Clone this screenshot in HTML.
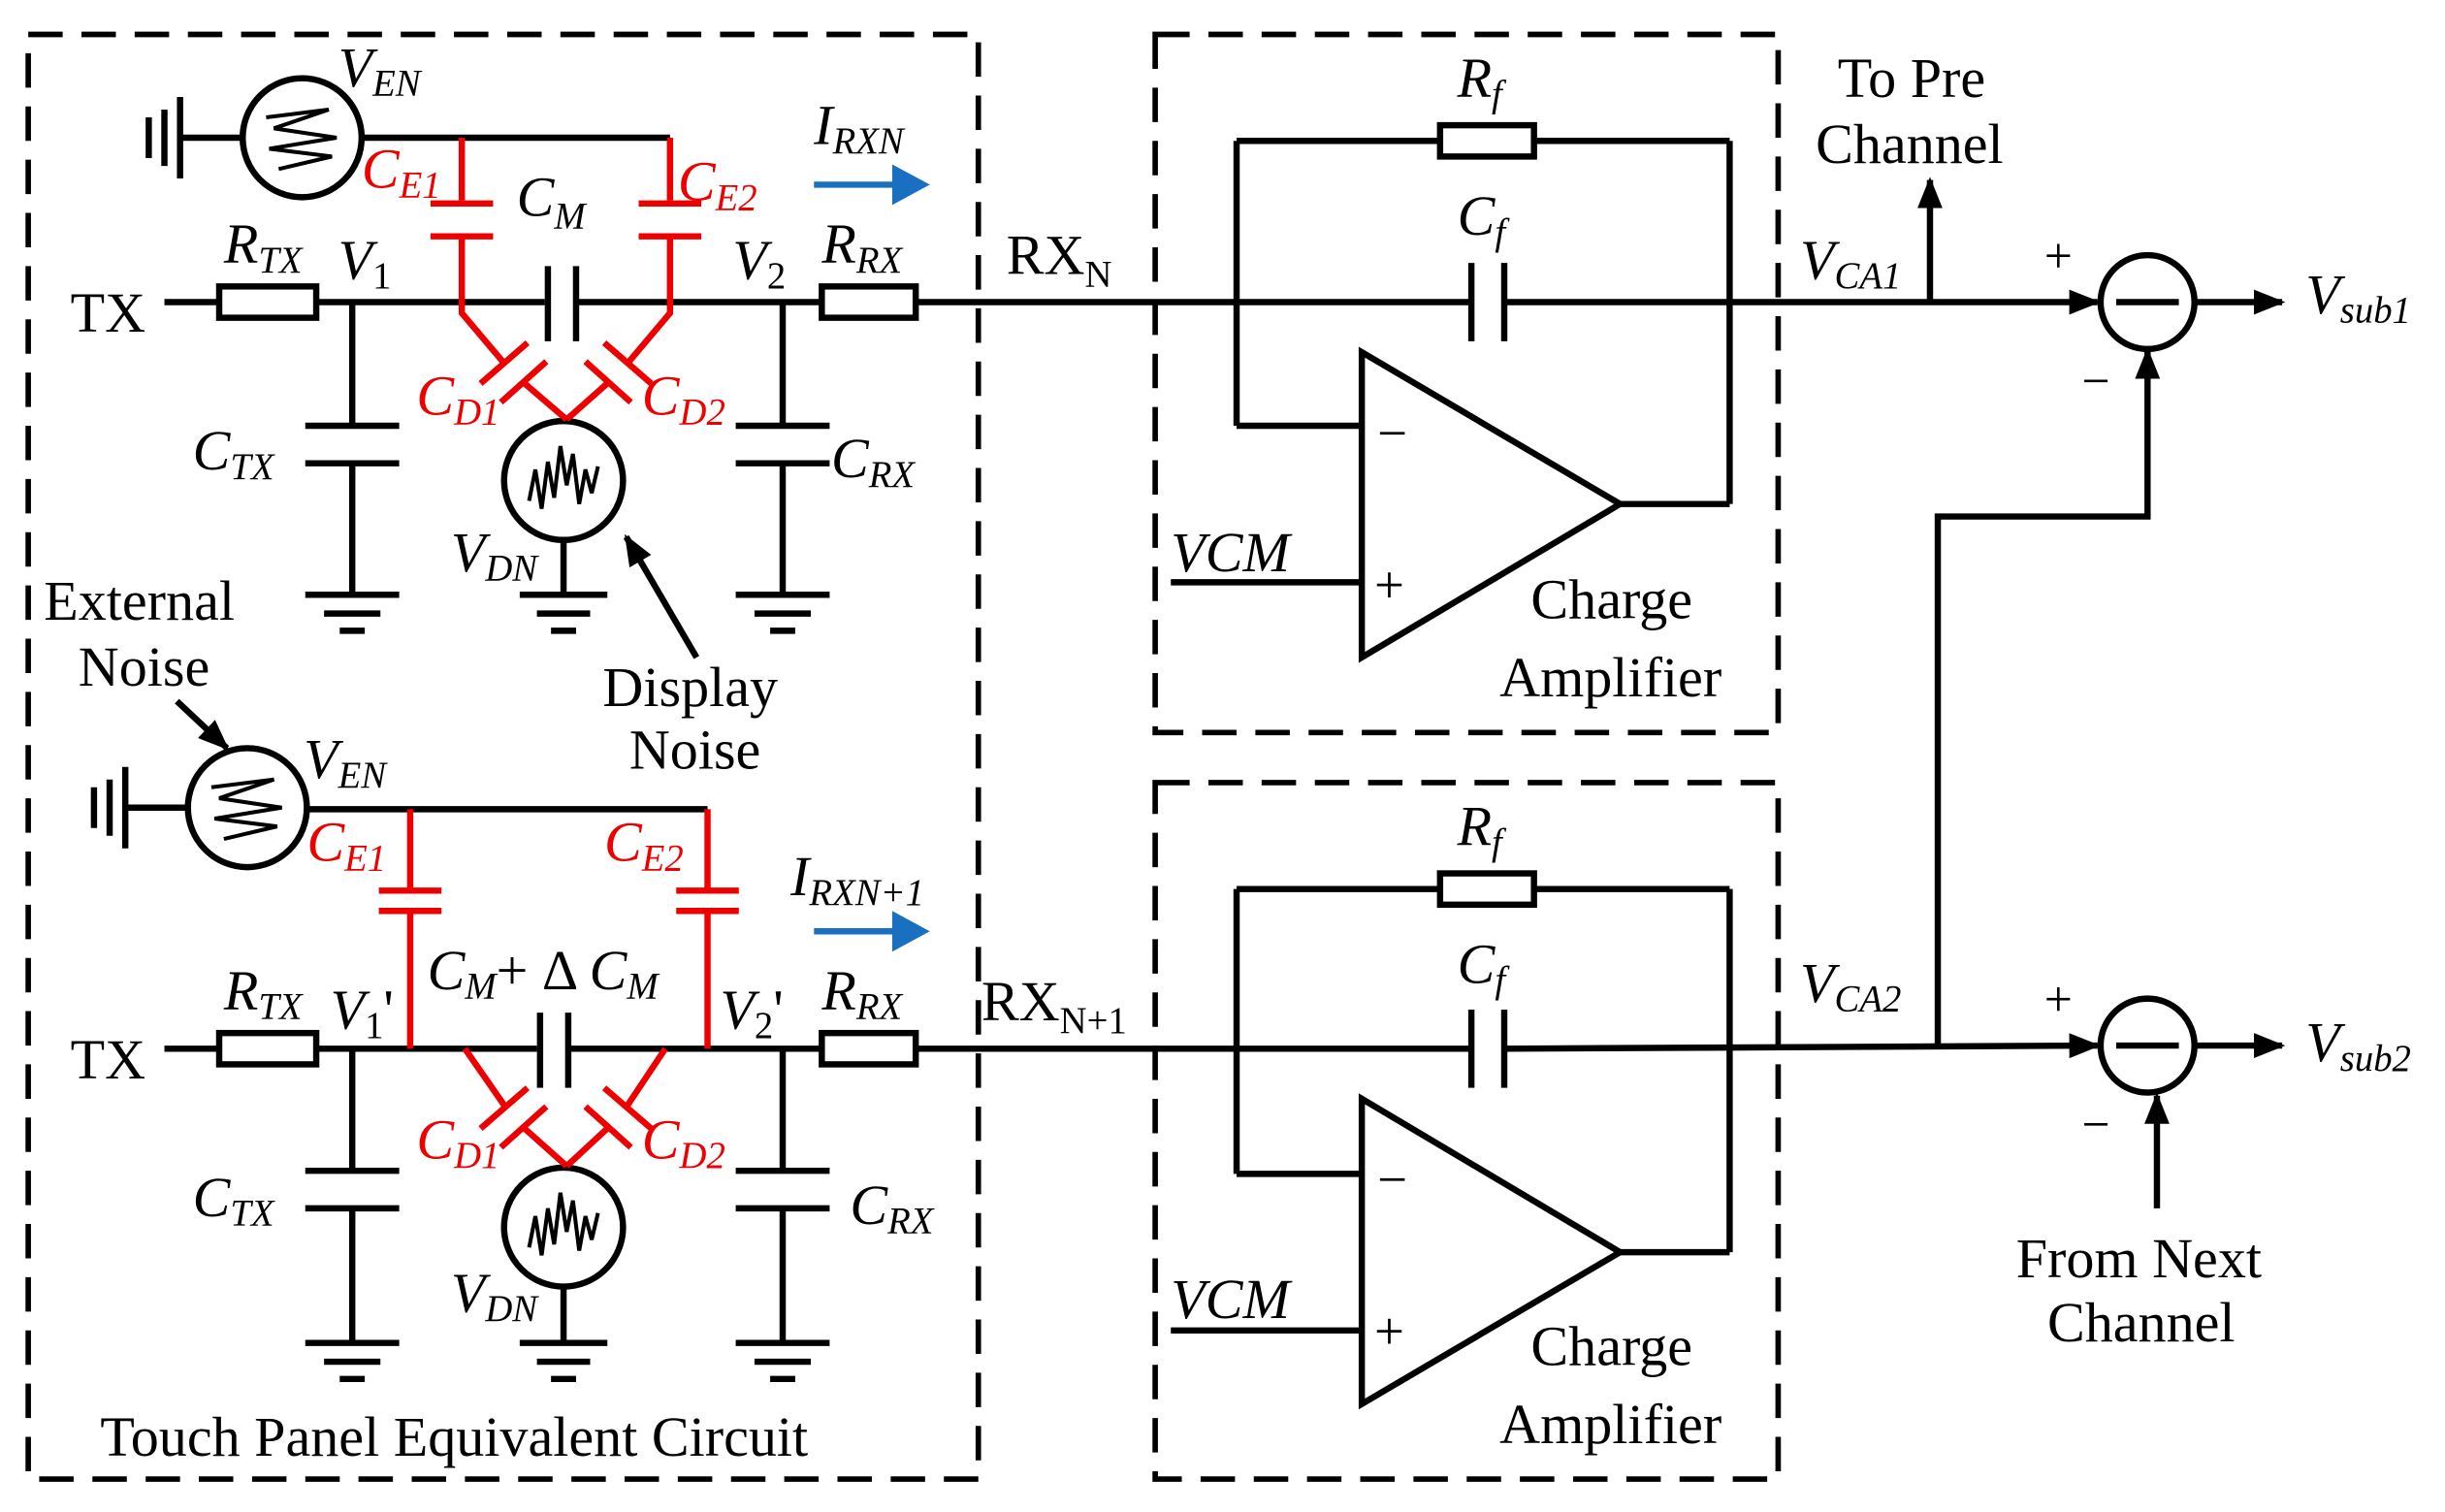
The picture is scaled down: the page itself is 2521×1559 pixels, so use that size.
<!DOCTYPE html>
<html><head><meta charset="utf-8"><style>html,body{margin:0;padding:0;background:#fff}svg{display:block}svg text{font-family:"Liberation Serif","Times New Roman",Times,serif}</style></head><body>
<svg width="2521" height="1559" viewBox="0 0 1562 966" xmlns="http://www.w3.org/2000/svg">
<defs>
<marker id="ar" markerWidth="20" markerHeight="16" refX="18" refY="8" orient="auto" markerUnits="userSpaceOnUse"><path d="M0,0 L20,8 L0,16 Z" fill="#000"/></marker>
</defs>
<g fill="none" stroke="#000" stroke-width="3.5" stroke-dasharray="22,12">
<rect x="18" y="22" width="607" height="923"/>
<rect x="738" y="22" width="398" height="446"/>
<rect x="738" y="500" width="398" height="445"/>
</g>

<g stroke="#000" stroke-width="4" fill="none">
<line x1="95" y1="75" x2="95" y2="101"/><line x1="105" y1="70" x2="105" y2="106"/><line x1="115" y1="62" x2="115" y2="114"/>
<line x1="115" y1="88" x2="155" y2="88"/>
<circle cx="193" cy="88" r="38"/>
<polyline stroke-width="2.5" points="170,75 210,70 175,82 215,88 172,95 212,100 178,108"/>
<line x1="231" y1="88" x2="428" y2="88"/>
<line x1="105" y1="193" x2="140" y2="193"/>
<rect x="140" y="183" width="62" height="20"/>
<line x1="202" y1="193" x2="348" y2="193"/>
<line x1="350" y1="170" x2="350" y2="218"/><line x1="368" y1="170" x2="368" y2="218"/>
<line x1="368" y1="193" x2="525" y2="193"/>
<rect x="525" y="183" width="60" height="20"/>
<line x1="585" y1="193" x2="940" y2="193"/>
<line x1="940" y1="168" x2="940" y2="218"/><line x1="961" y1="168" x2="961" y2="218"/>
<line x1="961" y1="193" x2="1340" y2="193" marker-end="url(#ar)"/>
<line x1="225" y1="193" x2="225" y2="272"/>
<line x1="195" y1="272" x2="255" y2="272"/><line x1="195" y1="296" x2="255" y2="296"/>
<line x1="225" y1="296" x2="225" y2="380"/>
<line x1="195" y1="380" x2="255" y2="380"/><line x1="207" y1="392" x2="243" y2="392"/><line x1="217" y1="403" x2="233" y2="403"/>
<line x1="500" y1="193" x2="500" y2="272"/>
<line x1="470" y1="272" x2="530" y2="272"/><line x1="470" y1="296" x2="530" y2="296"/>
<line x1="500" y1="296" x2="500" y2="380"/>
<line x1="470" y1="380" x2="530" y2="380"/><line x1="482" y1="392" x2="518" y2="392"/><line x1="492" y1="403" x2="508" y2="403"/>
<circle cx="360" cy="307" r="38"/>
<polyline stroke-width="2.5" points="338,320 342,300 346,325 350,295 354,318 358,285 362,310 366,290 370,322 374,300 378,315 382,298"/>
<line x1="360" y1="345" x2="360" y2="380"/>
<line x1="332" y1="380" x2="388" y2="380"/><line x1="343" y1="392" x2="377" y2="392"/><line x1="352" y1="403" x2="368" y2="403"/>
<polygon points="870,225 870,420 1035,322"/>
<line x1="790" y1="90" x2="920" y2="90"/><rect x="920" y="80" width="60" height="20"/><line x1="980" y1="90" x2="1105" y2="90"/>
<line x1="790" y1="90" x2="790" y2="272"/><line x1="790" y1="272" x2="870" y2="272"/>
<line x1="748" y1="372" x2="870" y2="372"/>
<line x1="1105" y1="90" x2="1105" y2="322"/><line x1="1035" y1="322" x2="1105" y2="322"/>
<line x1="1233" y1="193" x2="1233" y2="115" marker-end="url(#ar)"/>
<circle cx="1372" cy="193" r="30"/><line x1="1352" y1="193" x2="1392" y2="193"/>
<line x1="1402" y1="193" x2="1458" y2="193" marker-end="url(#ar)"/>
<polyline points="1238,668 1238,330 1372,330 1372,224" marker-end="url(#ar)"/>
<line x1="445" y1="420" x2="400" y2="343" marker-end="url(#ar)"/>
</g>
<g stroke="#e00" stroke-width="4" fill="none">
<line x1="295" y1="88" x2="295" y2="128"/><line x1="275" y1="130" x2="315" y2="130"/><line x1="275" y1="151" x2="315" y2="151"/><line x1="295" y1="151" x2="295" y2="193"/>
<line x1="428" y1="88" x2="428" y2="128"/><line x1="408" y1="130" x2="448" y2="130"/><line x1="408" y1="151" x2="448" y2="151"/><line x1="428" y1="151" x2="428" y2="193"/>
<polyline points="295,193 295,200 322,232"/><line x1="307" y1="245" x2="337" y2="219"/><line x1="320" y1="257" x2="349" y2="231"/><polyline points="334,244 362,268"/>
<polyline points="428,193 428,200 401,232"/><line x1="416" y1="245" x2="386" y2="219"/><line x1="403" y1="257" x2="374" y2="231"/><polyline points="389,244 362,268"/>
</g>
<line x1="520" y1="118" x2="575" y2="118" stroke="#1a70c0" stroke-width="4"/>
<polygon points="570,105 594,118 570,131" fill="#1a70c0"/>

<g stroke="#000" stroke-width="4" fill="none">
<line x1="60" y1="503" x2="60" y2="529"/><line x1="70" y1="498" x2="70" y2="534"/><line x1="80" y1="490" x2="80" y2="542"/>
<line x1="80" y1="516" x2="120" y2="516"/>
<circle cx="158" cy="516" r="38"/>
<polyline stroke-width="2.5" points="135,503 175,498 140,510 180,516 137,523 177,528 143,536"/>
<line x1="196" y1="517" x2="452" y2="517"/>
<line x1="105" y1="670" x2="140" y2="670"/>
<rect x="140" y="660" width="62" height="20"/>
<line x1="202" y1="670" x2="343" y2="670"/>
<line x1="345" y1="647" x2="345" y2="695"/><line x1="363" y1="647" x2="363" y2="695"/>
<line x1="363" y1="670" x2="525" y2="670"/>
<rect x="525" y="660" width="60" height="20"/>
<line x1="585" y1="670" x2="940" y2="670"/>
<line x1="940" y1="645" x2="940" y2="695"/><line x1="961" y1="645" x2="961" y2="695"/>
<line x1="961" y1="670" x2="1340" y2="668" marker-end="url(#ar)"/>
<line x1="225" y1="670" x2="225" y2="748"/>
<line x1="195" y1="748" x2="255" y2="748"/><line x1="195" y1="772" x2="255" y2="772"/>
<line x1="225" y1="772" x2="225" y2="858"/>
<line x1="195" y1="858" x2="255" y2="858"/><line x1="207" y1="870" x2="243" y2="870"/><line x1="217" y1="881" x2="233" y2="881"/>
<line x1="500" y1="670" x2="500" y2="748"/>
<line x1="470" y1="748" x2="530" y2="748"/><line x1="470" y1="772" x2="530" y2="772"/>
<line x1="500" y1="772" x2="500" y2="858"/>
<line x1="470" y1="858" x2="530" y2="858"/><line x1="482" y1="870" x2="518" y2="870"/><line x1="492" y1="881" x2="508" y2="881"/>
<circle cx="360" cy="784" r="38"/>
<polyline stroke-width="2.5" points="338,797 342,777 346,802 350,772 354,795 358,762 362,787 366,767 370,799 374,777 378,792 382,775"/>
<line x1="360" y1="822" x2="360" y2="858"/>
<line x1="332" y1="858" x2="388" y2="858"/><line x1="343" y1="870" x2="377" y2="870"/><line x1="352" y1="881" x2="368" y2="881"/>
<polygon points="870,702 870,897 1035,800"/>
<line x1="790" y1="568" x2="920" y2="568"/><rect x="920" y="558" width="60" height="20"/><line x1="980" y1="568" x2="1105" y2="568"/>
<line x1="790" y1="568" x2="790" y2="750"/><line x1="790" y1="750" x2="870" y2="750"/>
<line x1="748" y1="850" x2="870" y2="850"/>
<line x1="1105" y1="568" x2="1105" y2="800"/><line x1="1035" y1="800" x2="1105" y2="800"/>
<circle cx="1372" cy="668" r="30"/><line x1="1352" y1="668" x2="1392" y2="668"/>
<line x1="1402" y1="668" x2="1458" y2="668" marker-end="url(#ar)"/>
<line x1="1378" y1="772" x2="1378" y2="700" marker-end="url(#ar)"/>
<line x1="113" y1="448" x2="145" y2="478" marker-end="url(#ar)"/>
</g>
<g stroke="#e00" stroke-width="4" fill="none">
<line x1="262" y1="517" x2="262" y2="568"/><line x1="242" y1="569" x2="282" y2="569"/><line x1="242" y1="582" x2="282" y2="582"/><line x1="262" y1="582" x2="262" y2="670"/>
<line x1="452" y1="517" x2="452" y2="568"/><line x1="432" y1="569" x2="472" y2="569"/><line x1="432" y1="582" x2="472" y2="582"/><line x1="452" y1="582" x2="452" y2="670"/>
<polyline points="297,670 322,706"/><line x1="307" y1="721" x2="337" y2="695"/><line x1="320" y1="733" x2="349" y2="707"/><polyline points="334,720 362,745"/>
<polyline points="425,670 401,706"/><line x1="416" y1="721" x2="386" y2="695"/><line x1="403" y1="733" x2="374" y2="707"/><polyline points="389,720 362,745"/>
</g>
<line x1="520" y1="595" x2="575" y2="595" stroke="#1a70c0" stroke-width="4"/>
<polygon points="570,582 594,595 570,608" fill="#1a70c0"/>

<g font-size="36" fill="#000">
<text x="45" y="212">TX</text><text x="45" y="689">TX</text>
<text x="643" y="175">RX<tspan font-size="24" dy="8">N</tspan></text>
<text x="627" y="652">RX<tspan font-size="24" dy="8">N+1</tspan></text>
<text x="1174" y="62">To Pre</text><text x="1160" y="104">Channel</text>
<text x="28" y="396">External</text><text x="50" y="438">Noise</text>
<text x="385" y="451">Display</text><text x="402" y="491">Noise</text>
<text x="978" y="395">Charge</text><text x="958" y="445">Amplifier</text>
<text x="978" y="872">Charge</text><text x="958" y="922">Amplifier</text>
<text x="1288" y="816">From Next</text><text x="1308" y="857">Channel</text>
<text x="64" y="930">Touch Panel Equivalent Circuit</text>
<text x="1306" y="174" font-size="32">+</text><text x="1330" y="254" font-size="32">−</text>
<text x="1306" y="649" font-size="32">+</text><text x="1330" y="729" font-size="32">−</text>
<text x="880" y="288" font-size="34">−</text><text x="878" y="385" font-size="34">+</text>
<text x="880" y="765" font-size="34">−</text><text x="878" y="862" font-size="34">+</text>
</g>
<g font-size="36" font-style="italic" fill="#000">
<text x="216" y="55">V<tspan font-size="24" dy="6">EN</tspan></text>
<text x="194" y="497">V<tspan font-size="24" dy="6">EN</tspan></text>
<text x="330" y="138">C<tspan font-size="24" dy="8">M</tspan></text>
<text x="520" y="92">I<tspan font-size="24" dy="6">RXN</tspan></text>
<text x="505" y="572">I<tspan font-size="24" dy="6">RXN+1</tspan></text>
<text x="143" y="168">R<tspan font-size="24" dy="6">TX</tspan></text>
<text x="216" y="178">V<tspan font-size="24" font-style="normal" dy="6">1</tspan></text>
<text x="468" y="178">V<tspan font-size="24" font-style="normal" dy="6">2</tspan></text>
<text x="525" y="168">R<tspan font-size="24" dy="6">RX</tspan></text>
<text x="123" y="300">C<tspan font-size="24" dy="6">TX</tspan></text>
<text x="531" y="305">C<tspan font-size="24" dy="6">RX</tspan></text>
<text x="288" y="365">V<tspan font-size="24" dy="6">DN</tspan></text>
<text x="931" y="62">R<tspan font-size="24" dy="6">f</tspan></text>
<text x="931" y="150">C<tspan font-size="24" dy="6">f</tspan></text>
<text x="748" y="365">VCM</text>
<text x="1150" y="178">V<tspan font-size="24" dy="6">CA1</tspan></text>
<text x="1473" y="200">V<tspan font-size="24" dy="6">sub1</tspan></text>
<text x="143" y="645">R<tspan font-size="24" dy="6">TX</tspan></text>
<text x="211" y="657">V<tspan font-size="24" font-style="normal" dy="6">1</tspan><tspan font-style="normal" dy="-6">'</tspan></text>
<text x="460" y="657">V<tspan font-size="24" font-style="normal" dy="6">2</tspan><tspan font-style="normal" dy="-6">'</tspan></text>
<text x="525" y="645">R<tspan font-size="24" dy="6">RX</tspan></text>
<text x="273" y="632">C<tspan font-size="24" dy="6">M</tspan><tspan font-style="normal" dy="-6">+ Δ </tspan>C<tspan font-size="24" dy="6">M</tspan></text>
<text x="123" y="777">C<tspan font-size="24" dy="6">TX</tspan></text>
<text x="543" y="782">C<tspan font-size="24" dy="6">RX</tspan></text>
<text x="288" y="838">V<tspan font-size="24" dy="6">DN</tspan></text>
<text x="931" y="540">R<tspan font-size="24" dy="6">f</tspan></text>
<text x="931" y="628">C<tspan font-size="24" dy="6">f</tspan></text>
<text x="748" y="842">VCM</text>
<text x="1150" y="640">V<tspan font-size="24" dy="6">CA2</tspan></text>
<text x="1473" y="678">V<tspan font-size="24" dy="6">sub2</tspan></text>
</g>
<g font-size="36" font-style="italic" fill="#e00">
<text x="231" y="120">C<tspan font-size="24" dy="6">E1</tspan></text>
<text x="433" y="128">C<tspan font-size="24" dy="6">E2</tspan></text>
<text x="266" y="265">C<tspan font-size="24" dy="6">D1</tspan></text>
<text x="410" y="265">C<tspan font-size="24" dy="6">D2</tspan></text>
<text x="196" y="550">C<tspan font-size="24" dy="6">E1</tspan></text>
<text x="386" y="550">C<tspan font-size="24" dy="6">E2</tspan></text>
<text x="266" y="740">C<tspan font-size="24" dy="6">D1</tspan></text>
<text x="410" y="740">C<tspan font-size="24" dy="6">D2</tspan></text>
</g>
</svg>
</body></html>
